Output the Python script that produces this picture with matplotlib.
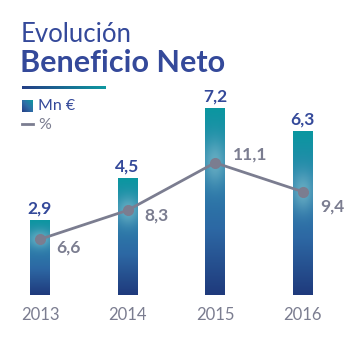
import numpy as np
import matplotlib
matplotlib.use("Agg")
import matplotlib.pyplot as plt
from matplotlib.colors import LinearSegmentedColormap, to_rgb
from matplotlib.patches import Rectangle

years = ["2013", "2014", "2015", "2016"]
mn_eur = [2.9, 4.5, 7.2, 6.3]
mn_labels = ["2,9", "4,5", "7,2", "6,3"]
pct = [6.6, 8.3, 11.1, 9.4]
pct_labels = ["6,6", "8,3", "11,1", "9,4"]

W, H = 354, 338
fig = plt.figure(figsize=(W / 100, H / 100), dpi=100)
fig.patch.set_facecolor("white")

TITLE_BLUE = "#34499a"
GRAY = "#7b7d90"
FONT = "Lato"

# Title
fig.text(21 / W, 1 - 34 / H, "Evolución", fontsize=18.5, color=TITLE_BLUE,
         family=FONT, fontweight="normal", va="center", ha="left")
fig.text(20 / W, 1 - 63 / H, "Beneficio Neto", fontsize=22, color=TITLE_BLUE,
         family=FONT, fontweight="bold", va="center", ha="left")

# gradient underline
ul = fig.add_axes([22 / W, 1 - 89.5 / H, 84 / W, 3 / H])
ul.axis("off")
cm_ul = LinearSegmentedColormap.from_list("ul", ["#253f86", "#0e98a0"])
ul.imshow(np.linspace(0, 1, 100)[None, :], aspect="auto", cmap=cm_ul)

# legend
lg = fig.add_axes([22 / W, 1 - 112 / H, 11 / W, 12 / H])
lg.axis("off")
cm_sq = LinearSegmentedColormap.from_list("sq", ["#253f86", "#2f6ea8", "#0e98a0"])
gx, gy = np.meshgrid(np.linspace(0, 1, 30), np.linspace(0, 1, 30))
lg.imshow((gx + (1 - gy)) / 2, aspect="auto", cmap=cm_sq)
fig.text(38 / W, 1 - 106 / H, "Mn €", fontsize=11.5, color=TITLE_BLUE,
         family=FONT, va="center", ha="left")
fig.lines.append(plt.Line2D([22 / W, 33 / W], [1 - 124.5 / H, 1 - 124.5 / H],
                            color=GRAY, lw=2, transform=fig.transFigure))
fig.text(38 / W, 1 - 125 / H, "%", fontsize=11.5, color=GRAY,
         family=FONT, va="center", ha="left")

# main axes
ax = fig.add_axes([5 / W, 43 / H, 332.5 / W, 205 / H])
ax.set_xlim(-0.4, 3.4)
ax.set_ylim(0, 205 / 26)
ax.axis("off")
ax2 = ax.twinx()
ax2.set_ylim(3.32, 3.32 + 205 / 17)
ax2.axis("off")

x = np.arange(len(years))
bw = 0.22

stops = [(0.0, "#1f3a7c"), (0.35, "#2d68a4"), (0.72, "#2a86ac"), (1.0, "#0a97a0")]

def bar_image(top, dot_frac, n=200):
    ys = np.linspace(0, 1, n)
    cols = np.zeros((n, 3))
    pos = [s[0] for s in stops]
    rgb = np.array([to_rgb(s[1]) for s in stops])
    for c in range(3):
        cols[:, c] = np.interp(ys, pos, rgb[:, c])
    xs = np.linspace(-1, 1, 20)
    img = np.repeat(cols[:, None, :], len(xs), axis=1)
    glow = np.exp(-((ys[:, None] - dot_frac) / 0.12) ** 2) * np.exp(-(xs[None, :] / 1.2) ** 2)
    light = np.array(to_rgb("#7cbccb"))
    img = img * (1 - 0.7 * glow[..., None]) + light * 0.7 * glow[..., None]
    return img

for i, v in enumerate(mn_eur):
    disp = ax2.transData.transform((x[i], pct[i]))
    dot_y = ax.transData.inverted().transform(disp)[1]
    frac = np.clip(dot_y / v, 0, 1)
    img = bar_image(v, frac)
    im = ax.imshow(img, extent=(x[i] - bw / 2, x[i] + bw / 2, 0, v),
                   origin="lower", aspect="auto", zorder=1)
    rect = Rectangle((x[i] - bw / 2, 0), bw, v, transform=ax.transData,
                     facecolor="none", edgecolor="none")
    ax.add_patch(rect)
    im.set_clip_path(rect)
    ax.annotate(mn_labels[i], (x[i], v), xytext=(0, 2.5), textcoords="offset points",
                ha="center", va="bottom", fontsize=12.5, fontweight="bold",
                color=TITLE_BLUE, family=FONT)
ax.set_xlim(-0.4, 3.4)
ax.set_ylim(0, 205 / 26)

ax2.plot(x, pct, color=GRAY, lw=2, marker="o", ms=7, zorder=3)
offs = [(12, -6), (12, -4), (13, 6), (13, -11)]
for i, p in enumerate(pct):
    ax2.annotate(pct_labels[i], (x[i], p), xytext=offs[i], textcoords="offset points",
                 ha="left", va="center", fontsize=12.5, fontweight="bold",
                 color=GRAY, family=FONT)

for i, yl in enumerate(years):
    fig.text(ax.transData.transform((x[i], 0))[0] / W, 1 - 315 / H, yl,
             fontsize=12, color=GRAY, family=FONT, ha="center", va="center")

fig.savefig("out.png", dpi=100, facecolor="white")
